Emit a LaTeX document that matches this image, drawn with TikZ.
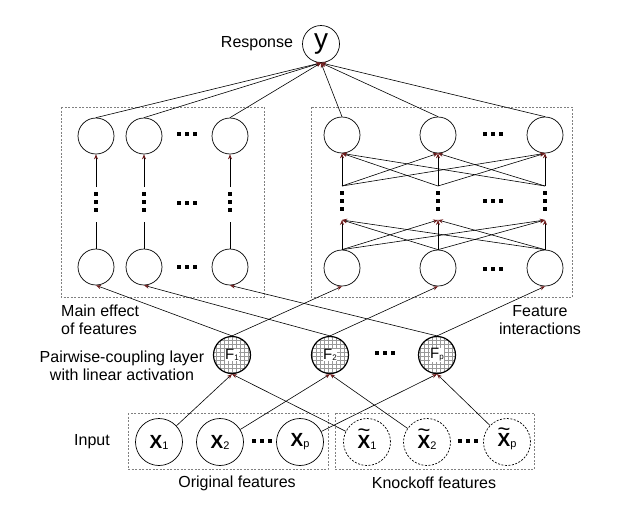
\documentclass[tikz,border=0pt]{standalone}
\usepackage{fontspec}
\setmainfont{Liberation Sans}
\usetikzlibrary{arrows.meta}
\definecolor{tipred}{RGB}{110,30,30}
\setlength{\fboxsep}{0.6pt}
\newcommand{\lowsub}[2]{\raisebox{-1pt}{\fontsize{#1}{#1}\selectfont #2}}
\newcommand{\tildex}{\ooalign{\bfseries X\cr\hidewidth\raisebox{10.5pt}{\mdseries\fontsize{22}{22}\selectfont\textasciitilde}\hidewidth\cr}}
\tikzset{
  unit/.style={draw, circle, minimum size=36pt, inner sep=0pt, line width=0.7pt},
  fnode/.style={draw, circle, minimum size=37pt, inner sep=0pt, line width=1.2pt},
  innode/.style={draw, circle, minimum size=47pt, inner sep=0pt, line width=0.7pt},
  knode/.style={innode, dash pattern=on 2pt off 1.5pt},
  arr/.style={line width=0.6pt, -{Stealth[length=5pt,width=4pt,color=tipred]}},
  groupbox/.style={draw=gray, dash pattern=on 2pt off 1.5pt, line width=0.7pt},
  lab/.style={font=\fontsize{16}{18.5}\selectfont, inner sep=0pt}
}
\begin{document}
\begin{tikzpicture}[x=1pt,y=-1pt]
\useasboundingbox (0,0) rectangle (622,509);

% Dashed group boxes
\draw[groupbox] (61,107) rectangle (264,297);
\draw[groupbox] (311,107) rectangle (572,297);
\draw[groupbox] (128,413) rectangle (328,469);
\draw[groupbox] (335,413) rectangle (534,469);

% Response
\node[unit, minimum size=37pt] (y) at (321,44) {\fontsize{28}{28}\selectfont y};
\node[lab] (resp) at (257,44) {Response};

% Main effect columns
\foreach \i/\x in {1/96,2/144,3/230} {
  \node[unit] (mtop\i) at (\x,136) {};
  \node[unit] (mbot\i) at (\x,267) {};
  \coordinate (mup\i) at (\x,187);
  \coordinate (mlow\i) at (\x,222);
}
% Interaction columns
\foreach \i/\x in {1/342,2/438,3/545} {
  \node[unit] (itop\i) at (\x,135) {};
  \node[unit] (ibot\i) at (\x,268) {};
  \coordinate (iup\i) at (\x,186);
  \coordinate (ilow\i) at (\x,220);
}

% Pairwise-coupling layer: grid filled circles
\foreach \fx in {232,330,437} {
  \begin{scope}
    \clip (\fx,355) circle (18.5);
    \draw[gray!80, line width=0.35pt, step=4pt] (\fx-20,375) grid (\fx+20,335);
  \end{scope}
}
\node[fnode] (f1) at (232,355) {\colorbox{white}{{\fontsize{15}{15}\selectfont F}\lowsub{8}{1}}};
\node[fnode] (f2) at (330,355) {\colorbox{white}{{\fontsize{15}{15}\selectfont F}\lowsub{8}{2}}};
\node[fnode] (f3) at (437,355) {\colorbox{white}{{\fontsize{15}{15}\selectfont F}\lowsub{8}{p}}};

% Inputs
\foreach \i/\x/\s in {1/159/1,2/220/2,3/300/p} {
  \node[innode] (x\i) at (\x,442) {{\fontsize{19}{19}\selectfont\bfseries X}\lowsub{11}{\s}};
}
\foreach \i/\x/\s in {1/367/1,2/427/2,3/507/p} {
  \node[knode] (k\i) at (\x,442) {{\fontsize{19}{19}\selectfont\tildex}\lowsub{11}{\s}};
}

% Labels
\node[lab, align=left, anchor=west] (main) at (61,320) {Main effect\\of features};
\node[lab, align=center] (inter) at (540,320) {Feature\\interactions};
\node[lab, align=center] (pair) at (122,366) {Pairwise-coupling layer\\with linear activation};
\node[lab] (inp) at (92,442) {Input};
\node[lab] (orig) at (237,483) {Original features};
\node[lab] (knock) at (434,483) {Knockoff features};

% Horizontal dots
\foreach \x/\y in {187/134,187/203,187/267,493/134,493/201,493/269,385/353,262/441,468/441} {
  \foreach \d in {-8,0,8}
    \fill (\x+\d-1.6,\y-1.6) rectangle ++(3.2,3.2);
}
% Vertical dots
\foreach \x/\y in {96/202,144/202,230/202,342/201,438/201,545/201} {
  \foreach \d in {-8,0,8}
    \fill (\x-1.6,\y+\d-1.6) rectangle ++(3.2,3.2);
}

% Hidden layer connections
\foreach \i in {1,2,3} {
  \draw[arr] (mup\i) -- (mtop\i.south);
  \draw[line width=0.6pt] (mbot\i.north) -- (mlow\i);
  \foreach \j in {1,2,3} {
    \draw[arr] (iup\i) -- (itop\j.south);
    \draw[arr] (ibot\i.north) -- (ilow\j);
  }
}

% To response
\foreach \i in {1,2,3} {
  \draw[arr] (mtop\i.north) -- (y.south);
  \draw[arr] (itop\i.north) -- (y.south);
}

% Coupling layer to both networks, inputs to coupling layer
\foreach \i in {1,2,3} {
  \draw[arr] (f\i.north) -- (mbot\i.south);
  \draw[arr] (f\i.north) -- (ibot\i.south);
  \draw[arr] (x\i) -- (f\i.south);
  \draw[arr] (k\i) -- (f\i.south);
}

\end{tikzpicture}
\end{document}
